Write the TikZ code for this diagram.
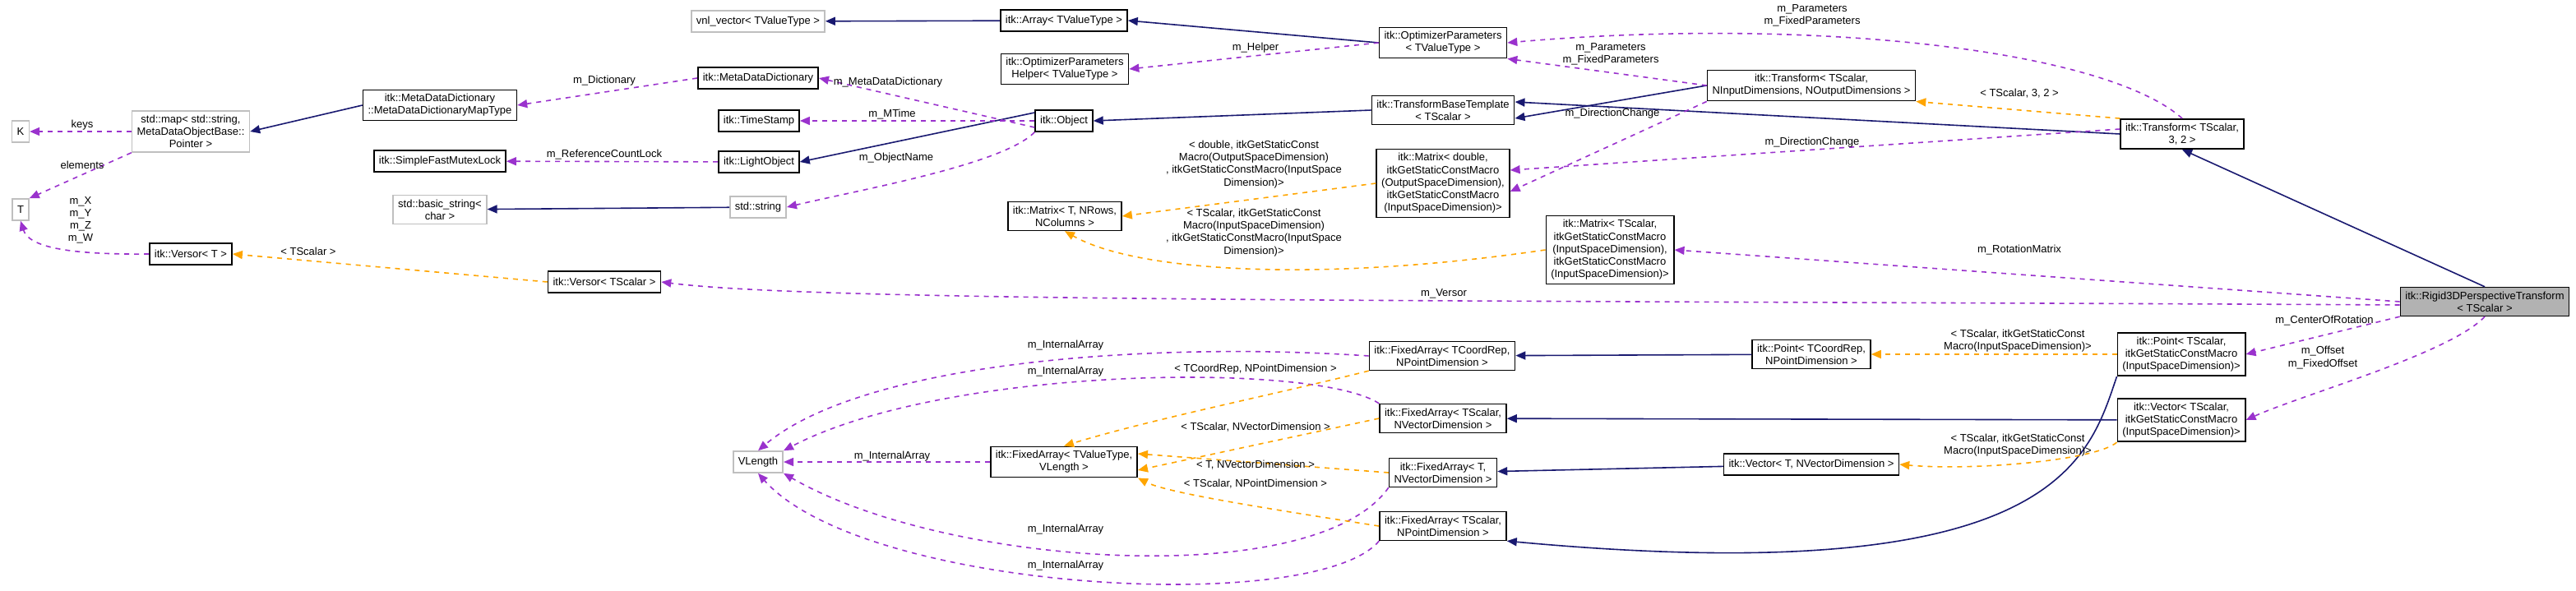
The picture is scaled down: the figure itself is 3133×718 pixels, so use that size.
\documentclass[tikz,border=0pt]{standalone}
\usepackage{fontspec}
\setmainfont{Liberation Sans}
\usetikzlibrary{arrows.meta}
\usetikzlibrary{positioning}
\definecolor{cnavy}{RGB}{25,25,112}
\definecolor{cpurple}{RGB}{154,50,205}
\definecolor{corange}{RGB}{255,165,0}

\tikzset{
  cls/.style={draw=black, thick, fill=white, align=center, inner xsep=3pt, inner ysep=2.5pt, minimum height=13pt, font=\fontsize{6.5}{7.6}\selectfont},
  ext/.style={cls, draw=black!25},
  hl/.style={cls, fill=black!30},
  lbl/.style={align=center, inner sep=0pt, font=\fontsize{6.5}{7.6}\selectfont},
  inh/.style={cnavy, thick, -{Triangle[length=6pt,width=5pt]}},
  use/.style={cpurple, thick, dashed, -{Triangle[length=6pt,width=5pt]}},
  tpl/.style={corange, thick, dashed, -{Triangle[length=6pt,width=5pt]}},
}

\begin{document}
\begin{tikzpicture}[x=0.5pt, y=-0.5pt]
  \useasboundingbox (0, 0) rectangle (3133, 718);

  % classes
  \node [ext] (vnl) at (922, 26) {vnl\_vector< TValueType >};
  \node [cls] (arr) at (1294, 25) {itk::Array< TValueType >};
  \node [cls] (optp) at (1755, 52) {itk::OptimizerParameters\\< TValueType >};
  \node [cls] (help) at (1295, 84) {itk::OptimizerParameters\\Helper< TValueType >};
  \node [cls] (mdd) at (922, 95) {itk::MetaDataDictionary};
  \node [cls] (mtype) at (535, 128) {itk::MetaDataDictionary\\::MetaDataDictionaryMapType};
  \node [ext] (smap) at (232, 160) {std::map< std::string,\\MetaDataObjectBase::\\Pointer >};
  \node [ext] (kk) at (25, 160) {K};
  \node [ext] (tt) at (25, 255) {T};
  \node [cls] (tstamp) at (923, 147) {itk::TimeStamp};
  \node [cls] (obj) at (1294, 147) {itk::Object};
  \node [cls] (tbt) at (1755, 134) {itk::TransformBaseTemplate\\< TScalar >};
  \node [cls] (trn) at (2203, 104) {itk::Transform< TScalar,\\NInputDimensions, NOutputDimensions >};
  \node [cls] (t32) at (2654, 163) {itk::Transform< TScalar,\\3, 2 >};
  \node [cls] (mutex) at (535, 196) {itk::SimpleFastMutexLock};
  \node [cls] (lobj) at (923, 197) {itk::LightObject};
  \node [ext] (bstr) at (535, 255) {std::basic\_string<\\char >};
  \node [ext] (sstr) at (922, 252) {std::string};
  \node [cls] (mdbl) at (1755, 223) {itk::Matrix< double,\\itkGetStaticConstMacro\\(OutputSpaceDimension),\\itkGetStaticConstMacro\\(InputSpaceDimension)>};
  \node [cls] (mtpl) at (1295, 263) {itk::Matrix< T, NRows,\\NColumns >};
  \node [cls] (msc) at (1958, 304) {itk::Matrix< TScalar,\\itkGetStaticConstMacro\\(InputSpaceDimension),\\itkGetStaticConstMacro\\(InputSpaceDimension)>};
  \node [cls] (vert) at (232, 309) {itk::Versor< T >};
  \node [cls] (vers) at (735, 343) {itk::Versor< TScalar >};
  \node [hl] (rigid) at (3022, 367) {itk::Rigid3DPerspectiveTransform\\< TScalar >};
  \node [cls] (fac) at (1754, 433) {itk::FixedArray< TCoordRep,\\NPointDimension >};
  \node [cls] (ptc) at (2203, 431) {itk::Point< TCoordRep,\\NPointDimension >};
  \node [cls] (pts) at (2653, 431) {itk::Point< TScalar,\\itkGetStaticConstMacro\\(InputSpaceDimension)>};
  \node [cls] (fasv) at (1755, 509) {itk::FixedArray< TScalar,\\NVectorDimension >};
  \node [cls] (vcs) at (2653, 511) {itk::Vector< TScalar,\\itkGetStaticConstMacro\\(InputSpaceDimension)>};
  \node [ext] (vlen) at (922, 562) {VLength};
  \node [cls] (fav) at (1294, 562) {itk::FixedArray< TValueType,\\VLength >};
  \node [cls] (fatv) at (1755, 575) {itk::FixedArray< T,\\NVectorDimension >};
  \node [cls] (vct) at (2203, 565) {itk::Vector< T, NVectorDimension >};
  \node [cls] (fasp) at (1755, 640) {itk::FixedArray< TScalar,\\NPointDimension >};

  % inheritance
  \draw [inh] (arr) -- (vnl);
  \draw [inh] (optp.west) -- (arr.east);
  \draw [inh] (trn.west) -- ([yshift=-5]tbt.east);
  \draw [inh] (t32.west) -- ([yshift=5]tbt.east);
  \draw [inh] (tbt.west) -- (obj.east);
  \draw [inh] ([yshift=5]obj.west) -- (lobj.east);
  \draw [inh] (sstr) -- (bstr);
  \draw [inh] (mtype.west) -- (smap.east);
  \draw [inh] (rigid.north) -- (t32.south);
  \draw [inh] (ptc) -- (fac);
  \draw [inh] (vcs) -- (fasv);
  \draw [inh] (vct) -- (fatv);
  \draw [inh] (pts.south west) .. controls (2540, 560) and (2500, 720) .. (fasp.south east);

  % members
  \draw [use] (optp.west) -- (help.east);
  \node [lbl] (lhelp) at (1527, 58) {m\_Helper};
  \draw [use] (trn.west) -- (optp.south east);
  \node [lbl] (lpar1) at (1959, 66) {m\_Parameters\\m\_FixedParameters};
  \draw [use] (t32.north) .. controls (2560, 60) and (2200, 20) .. (optp.east);
  \node [lbl] (lpar2) at (2204, 19) {m\_Parameters\\m\_FixedParameters};
  \draw [use] ([yshift=-4]obj.west) -- (mdd.east);
  \node [lbl] (lmdd) at (1080, 100) {m\_MetaDataDictionary};
  \draw [use] (obj.west) -- (tstamp.east);
  \node [lbl] (lmt) at (1085, 139) {m\_MTime};
  \draw [use] (obj.south west) .. controls (1220, 200) and (1050, 230) .. (sstr.east);
  \node [lbl] (lon) at (1090, 192) {m\_ObjectName};
  \draw [use] (lobj) -- (mutex);
  \node [lbl] (lrc) at (735, 188) {m\_ReferenceCountLock};
  \draw [use] (mdd.west) -- (mtype.east);
  \node [lbl] (ldict) at (735, 98) {m\_Dictionary};
  \draw [use] (smap) -- (kk);
  \node [lbl] (lkeys) at (100, 152) {keys};
  \draw [use] (smap.south west) -- (tt.north east);
  \node [lbl] (lel) at (100, 201) {elements};
  \draw [use] (vert.west) .. controls (80, 310) and (35, 300) .. (tt.south);
  \node [lbl] (lxyz) at (98, 268) {m\_X\\m\_Y\\m\_Z\\m\_W};
  \draw [use] (trn.south west) -- ([yshift=-5]mdbl.east);
  \node [lbl] (ldc1) at (1961, 138) {m\_DirectionChange};
  \draw [use] ([yshift=3]t32.west) -- ([yshift=8]mdbl.east);
  \node [lbl] (ldc2) at (2204, 173) {m\_DirectionChange};
  \draw [use] (rigid.west) -- (msc.east);
  \node [lbl] (lrot) at (2456, 304) {m\_RotationMatrix};
  \draw [use] ([yshift=-2]rigid.west) .. controls (1800, 365) and (1000, 368) .. (vers.east);
  \node [lbl] (lvers) at (1756, 357) {m\_Versor};
  \draw [use] (rigid.south west) -- (pts.east);
  \node [lbl] (lcor) at (2827, 390) {m\_CenterOfRotation};
  \draw [use] (rigid.south) .. controls (2980, 430) and (2800, 480) .. (vcs.east);
  \node [lbl] (loff) at (2825, 435) {m\_Offset\\m\_FixedOffset};

  % internal arrays
  \draw [use] (fac.west) .. controls (1400, 415) and (1050, 440) .. (vlen.north);
  \node [lbl] (lia1) at (1296, 420) {m\_InternalArray};
  \draw [use] (fasv.north west) .. controls (1600, 440) and (1150, 445) .. (vlen.north east);
  \node [lbl] (lia2) at (1296, 452) {m\_InternalArray};
  \draw [use] (fav) -- (vlen);
  \node [lbl] (lia3) at (1085, 555) {m\_InternalArray};
  \draw [use] (fatv.south west) .. controls (1600, 720) and (1150, 690) .. (vlen.south east);
  \node [lbl] (lia4) at (1296, 644) {m\_InternalArray};
  \draw [use] (fasp.south west) .. controls (1600, 750) and (1050, 720) .. (vlen.south);
  \node [lbl] (lia5) at (1296, 688) {m\_InternalArray};

  % template instances
  \draw [tpl] (vers.west) -- (vert.east);
  \node [lbl] (lvt) at (375, 306) {< TScalar >};
  \draw [tpl] (t32.north west) -- (trn.south east);
  \node [lbl] (l32) at (2456, 114) {< TScalar, 3, 2 >};
  \draw [tpl] (mdbl.west) -- (mtpl.east);
  \node [lbl] (lmd) at (1525, 200) {< double, itkGetStaticConst\\Macro(OutputSpaceDimension)\\, itkGetStaticConstMacro(InputSpace\\Dimension)>};
  \draw [tpl] (msc.west) .. controls (1600, 345) and (1380, 330) .. (mtpl.south);
  \node [lbl] (lms) at (1525, 283) {< TScalar, itkGetStaticConst\\Macro(InputSpaceDimension)\\, itkGetStaticConstMacro(InputSpace\\Dimension)>};
  \draw [tpl] (pts) -- (ptc);
  \node [lbl] (lpt) at (2454, 415) {< TScalar, itkGetStaticConst\\Macro(InputSpaceDimension)>};
  \draw [tpl] (vcs.south west) .. controls (2550, 560) and (2400, 573) .. (vct.east);
  \node [lbl] (lvc) at (2454, 542) {< TScalar, itkGetStaticConst\\Macro(InputSpaceDimension)>};
  \draw [tpl] (fac.south west) .. controls (1550, 480) and (1400, 510) .. (fav.north);
  \node [lbl] (lfa1) at (1527, 449) {< TCoordRep, NPointDimension >};
  \draw [tpl] (fasv.west) -- ([yshift=-5]fav.east);
  \node [lbl] (lfa2) at (1527, 520) {< TScalar, NVectorDimension >};
  \draw [tpl] (fatv.west) -- ([yshift=5]fav.east);
  \node [lbl] (lfa3) at (1527, 566) {< T, NVectorDimension >};
  \draw [tpl] (fasp.west) .. controls (1550, 620) and (1420, 600) .. (fav.south east);
  \node [lbl] (lfa4) at (1527, 589) {< TScalar, NPointDimension >};
\end{tikzpicture}
\end{document}
